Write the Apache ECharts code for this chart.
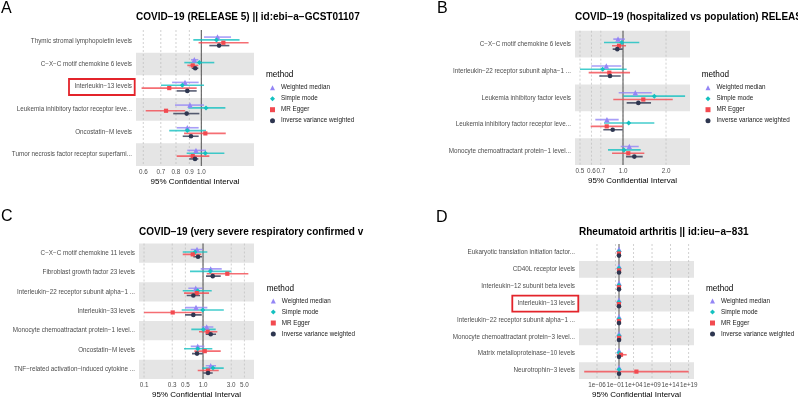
<!DOCTYPE html>
<html><head><meta charset="utf-8">
<script src="https://cdn.jsdelivr.net/npm/echarts@6/dist/echarts.min.js"></script>
<style>html,body{margin:0;padding:0;background:#fff}#c{width:798px;height:400px}</style>
</head><body><div id="c"></div><script>
const FONT = 'Liberation Sans, Arial, Helvetica, sans-serif';
const methods = ['Weighted median', 'Simple mode', 'MR Egger', 'Inverse variance weighted'];
const methodColors = ['#9486F5', '#14C1C0', '#F24A50', '#2E3650'];
const methodSymbols = ['triangle', 'diamond', 'rect', 'circle'];
const methodSizes = [5.5, 5, 4.2, 4.6];
const dodge = [-0.1875, -0.0625, 0.0625, 0.1875];

// ---------- Panel A ----------
const titleA = 'COVID−19 (RELEASE 5) || id:ebi−a−GCST01107';
const labelsA = ['Thymic stromal lymphopoietin levels', 'C−X−C motif chemokine 6 levels', 'Interleukin−13 levels',
  'Leukemia inhibitory factor receptor leve...', 'Oncostatin−M levels', 'Tumor necrosis factor receptor superfami...'];
const wmEstA = [1.153, 0.940, 0.866, 0.905, 0.884, 0.954];
const wmLoA  = [1.024, 0.913, 0.773, 0.793, 0.805, 0.884];
const wmHiA  = [1.299, 0.974, 0.977, 1.024, 0.977, 1.042];
const smEstA = [1.143, 0.983, 0.846, 1.042, 0.884, 1.036];
const smLoA  = [0.932, 0.861, 0.701, 0.892, 0.754, 0.879];
const smHiA  = [1.400, 1.121, 1.024, 1.236, 1.042, 1.225];
const egEstA = [1.214, 0.927, 0.754, 0.733, 1.036, 0.927];
const egLoA  = [0.976, 0.884, 0.591, 0.613, 0.859, 0.805];
const egHiA  = [1.516, 0.974, 0.960, 0.868, 1.240, 1.073];
const ivEstA = [1.169, 0.948, 0.884, 0.879, 0.913, 0.946];
const ivLoA  = [1.073, 0.919, 0.805, 0.781, 0.849, 0.900];
const ivHiA  = [1.280, 0.974, 0.960, 0.983, 0.977, 0.974];
const ticksA = [0.6, 0.7, 0.8, 0.9, 1.0];
const tickLabelsA = ['0.6', '0.7', '0.8', '0.9', '1.0'];
const rangeA = [0.5627, 1.590];

// ---------- Panel B ----------
const titleB = 'COVID−19 (hospitalized vs population) RELEAS';
const labelsB = ['C−X−C motif chemokine 6 levels', 'Interleukin−22 receptor subunit alpha−1 ...', 'Leukemia inhibitory factor levels',
  'Leukemia inhibitory factor receptor leve...', 'Monocyte chemoattractant protein−1 level...'];
const wmEstB = [0.923, 0.764, 1.219, 0.772, 1.107];
const wmLoB  = [0.855, 0.600, 0.933, 0.640, 0.964];
const wmHiB  = [1.030, 0.973, 1.589, 0.933, 1.288];
const smEstB = [0.979, 0.721, 1.657, 1.096, 1.016];
const smLoB  = [0.736, 0.500, 1.005, 0.736, 0.785];
const smHiB  = [1.300, 1.061, 2.720, 1.657, 1.330];
const egEstB = [0.938, 0.802, 1.387, 0.769, 1.089];
const egLoB  = [0.838, 0.575, 0.855, 0.594, 0.838];
const egHiB  = [1.050, 1.120, 2.229, 0.995, 1.410];
const ivEstB = [0.912, 0.811, 1.280, 0.847, 1.200];
const ivLoB  = [0.847, 0.682, 1.061, 0.728, 1.050];
const ivHiB  = [0.995, 0.964, 1.571, 0.995, 1.374];
const ticksB = [0.5, 0.6, 0.7, 1.0, 2.0];
const tickLabelsB = ['0.5', '0.6', '0.7', '1.0', '2.0'];
const rangeB = [0.4613, 2.944];

// ---------- Panel C ----------
const titleC = 'COVID−19 (very severe respiratory confirmed v';
const labelsC = ['C−X−C motif chemokine 11 levels', 'Fibroblast growth factor 23 levels', 'Interleukin−22 receptor subunit alpha−1 ...',
  'Interleukin−33 levels', 'Monocyte chemoattractant protein−1 level...', 'Oncostatin−M levels', 'TNF−related activation−induced cytokine ...'];
const wmEstC = [0.791, 1.350, 0.752, 0.761, 1.155, 0.813, 1.350];
const wmLoC  = [0.619, 0.914, 0.564, 0.495, 0.951, 0.619, 1.111];
const wmHiC  = [0.988, 2.075, 0.973, 1.183, 1.495, 1.052, 1.660];
const smEstC = [0.732, 1.330, 0.813, 0.988, 1.012, 0.813, 1.477];
const smLoC  = [0.453, 0.602, 0.453, 0.435, 0.633, 0.476, 0.973];
const smHiC  = [1.183, 3.020, 1.404, 2.250, 1.640, 1.437, 2.243];
const egEstC = [0.669, 2.580, 0.782, 0.306, 1.200, 1.069, 1.215];
const egLoC  = [0.453, 1.155, 0.476, 0.100, 0.855, 0.712, 0.813];
const egHiC  = [0.936, 5.860, 1.264, 0.951, 1.747, 1.996, 1.846];
const ivEstC = [0.823, 1.460, 0.685, 0.685, 1.350, 0.791, 1.215];
const ivLoC  = [0.685, 1.124, 0.529, 0.495, 1.111, 0.651, 1.012];
const ivHiC  = [0.962, 1.996, 0.890, 0.951, 1.660, 0.988, 1.460];
const ticksC = [0.1, 0.3, 0.5, 1.0, 3.0, 5.0];
const tickLabelsC = ['0.1', '0.3', '0.5', '1.0', '3.0', '5.0'];
const rangeC = [0.0822, 7.31];

// ---------- Panel D ----------
const titleD = 'Rheumatoid arthritis || id:ieu−a−831';
const labelsD = ['Eukaryotic translation initiation factor...', 'CD40L receptor levels', 'Interleukin−12 subunit beta levels',
  'Interleukin−13 levels', 'Interleukin−22 receptor subunit alpha−1 ...', 'Monocyte chemoattractant protein−3 level...',
  'Matrix metalloproteinase−10 levels', 'Neurotrophin−3 levels'];
const wmEstD = [0.98, 1.01, 0.99, 0.97, 1.00, 1.02, 0.99, 1.03];
const wmLoD  = [0.93, 0.96, 0.94, 0.92, 0.95, 0.96, 0.90, 0.92];
const wmHiD  = [1.03, 1.06, 1.04, 1.02, 1.05, 1.08, 1.09, 1.15];
const smEstD = [0.97, 1.02, 0.98, 0.96, 1.01, 1.03, 1.05, 1.04];
const smLoD  = [0.88, 0.93, 0.90, 0.88, 0.92, 0.93, 0.85, 0.80];
const smHiD  = [1.07, 1.12, 1.07, 1.05, 1.11, 1.14, 1.30, 1.35];
const egEstD = [0.95, 1.04, 0.97, 0.93, 0.99, 1.05, 3.5, 5.5e4];
const egLoD  = [0.80, 0.90, 0.85, 0.80, 0.85, 0.88, 0.23, 3.3e-10];
const egHiD  = [1.13, 1.20, 1.11, 1.08, 1.15, 1.25, 126, 1.0e19];
const ivEstD = [0.99, 1.01, 0.99, 0.98, 1.00, 1.01, 1.00, 1.02];
const ivLoD  = [0.96, 0.98, 0.96, 0.95, 0.97, 0.98, 0.95, 0.94];
const ivHiD  = [1.02, 1.04, 1.02, 1.01, 1.03, 1.04, 1.05, 1.10];
const ticksD = [1e-6, 1e-1, 1e4, 1e9, 1e14, 1e19];
const tickLabelsD = ['1e−06', '1e−01', '1e+04', '1e+09', '1e+14', '1e+19'];
const rangeD = [1.26e-11, 2.75e20];

const panels = [
  {title: titleA, labels: labelsA, est: [wmEstA, smEstA, egEstA, ivEstA], lo: [wmLoA, smLoA, egLoA, ivLoA], hi: [wmHiA, smHiA, egHiA, ivHiA], ticks: ticksA, tickLabels: tickLabelsA, range: rangeA},
  {title: titleB, labels: labelsB, est: [wmEstB, smEstB, egEstB, ivEstB], lo: [wmLoB, smLoB, egLoB, ivLoB], hi: [wmHiB, smHiB, egHiB, ivHiB], ticks: ticksB, tickLabels: tickLabelsB, range: rangeB},
  {title: titleC, labels: labelsC, est: [wmEstC, smEstC, egEstC, ivEstC], lo: [wmLoC, smLoC, egLoC, ivLoC], hi: [wmHiC, smHiC, egHiC, ivHiC], ticks: ticksC, tickLabels: tickLabelsC, range: rangeC},
  {title: titleD, labels: labelsD, est: [wmEstD, smEstD, egEstD, ivEstD], lo: [wmLoD, smLoD, egLoD, ivLoD], hi: [wmHiD, smHiD, egHiD, ivHiD], ticks: ticksD, tickLabels: tickLabelsD, range: rangeD}
];
const panelLetters = ['A', 'B', 'C', 'D'];

// layout (pixels)
const layouts = [
  {left: 136, top: 30, width: 118, height: 136, letter: [1, 9], title: [136, 17.5], legend: [270, 82.2], method: [266, 75]},
  {left: 575, top: 30.7, width: 115, height: 134.3, letter: [437, 9], title: [575, 17.5], legend: [705.5, 82.2], method: [701.7, 74.5]},
  {left: 139, top: 243.5, width: 115, height: 136.5, letter: [1, 217], title: [139, 232], legend: [270.8, 295.5], method: [266.7, 288.3]},
  {left: 579, top: 244, width: 115, height: 137, letter: [436, 218], title: [579, 232], legend: [710, 295.5], method: [706, 288.3]}
];
const highlightBoxes = [
  {x: 69, y: 79, w: 65.7, h: 16},
  {x: 512.3, y: 295.7, w: 66, h: 16}
];

const option = {
  animation: false,
  textStyle: {fontFamily: FONT},
  grid: [], xAxis: [], yAxis: [], series: [], legend: [], graphic: []
};

panels.forEach((p, k) => {
  const L = layouts[k];
  const n = p.labels.length;
  const yVal = 2 * k + 1;
  option.grid.push({left: L.left, top: L.top, width: L.width, height: L.height, containLabel: false});
  const tickLogs = p.ticks.map(Math.log10);
  option.xAxis.push({
    type: 'value', gridIndex: k,
    min: Math.log10(p.range[0]), max: Math.log10(p.range[1]),
    axisLine: {show: false}, axisTick: {show: false}, splitLine: {show: false},
    axisLabel: {
      customValues: tickLogs,
      formatter: v => { const i = tickLogs.findIndex(t => Math.abs(t - v) < 1e-6); return i >= 0 ? p.tickLabels[i] : ''; },
      fontSize: 6.3, color: '#4D4D4D', margin: 3, fontFamily: FONT, hideOverlap: false
    },
    name: '95% Confidential Interval', nameLocation: 'middle', nameGap: 12,
    nameTextStyle: {fontSize: 8, color: '#000', fontFamily: FONT}
  });
  option.yAxis.push({
    type: 'category', gridIndex: k, data: p.labels, inverse: true,
    axisLine: {show: false}, axisTick: {show: false}, splitLine: {show: false},
    axisLabel: {interval: 0, fontSize: 6.3, color: '#4D4D4D', margin: 4, fontFamily: FONT}
  });
  option.yAxis.push({type: 'value', gridIndex: k, min: 0, max: n, inverse: true, show: false});

  // alternating bands (bottom row shaded)
  const bandData = [];
  for (let i = 0; i < n; i++) if ((n - 1 - i) % 2 === 0) bandData.push([0, i, i + 1]);
  option.series.push({
    type: 'custom', name: 'band' + k, xAxisIndex: k, yAxisIndex: yVal, z: 1, silent: true,
    encode: {x: 0, y: [1, 2]}, data: bandData,
    renderItem: (params, api) => {
      const cs = params.coordSys;
      const y0 = api.coord([0, api.value(1)])[1];
      const y1 = api.coord([0, api.value(2)])[1];
      return {type: 'rect', shape: {x: cs.x, y: Math.min(y0, y1), width: cs.width, height: Math.abs(y1 - y0)}, style: {fill: '#E5E5E5'}};
    }
  });
  // dashed vertical grid lines at tick values
  option.series.push({
    type: 'custom', name: 'grid' + k, xAxisIndex: k, yAxisIndex: yVal, z: 2, silent: true,
    encode: {x: 0, y: 1}, data: tickLogs.map(t => [t, 0]),
    renderItem: (params, api) => {
      const cs = params.coordSys;
      const x = api.coord([api.value(0), 0])[0];
      return {type: 'line', shape: {x1: x, y1: cs.y, x2: x, y2: cs.y + cs.height}, style: {stroke: '#BDBDBD', lineWidth: 0.7, lineDash: [2, 2]}};
    }
  });
  // reference line at OR = 1
  option.series.push({
    type: 'custom', name: 'ref' + k, xAxisIndex: k, yAxisIndex: yVal, z: 3, silent: true,
    encode: {x: 0, y: 1}, data: [[Math.log10(1), 0]],
    renderItem: (params, api) => {
      const cs = params.coordSys;
      const x = api.coord([api.value(0), 0])[0];
      return {type: 'line', shape: {x1: x, y1: cs.y, x2: x, y2: cs.y + cs.height}, style: {stroke: '#5E5E5E', lineWidth: 1.1}};
    }
  });
  methods.forEach((m, j) => {
    const ciData = p.labels.map((_, i) => [Math.log10(p.lo[j][i]), Math.log10(p.hi[j][i]), i + 0.5 + dodge[j]]);
    option.series.push({
      type: 'custom', name: 'ci' + k + '_' + j, xAxisIndex: k, yAxisIndex: yVal, z: 4, silent: true,
      encode: {x: [0, 1], y: 2}, data: ciData, clip: true,
      renderItem: (params, api) => {
        const a = api.coord([api.value(0), api.value(2)]);
        const b = api.coord([api.value(1), api.value(2)]);
        return {type: 'line', shape: {x1: a[0], y1: a[1], x2: b[0], y2: b[1]}, style: {stroke: methodColors[j], lineWidth: 1.6, opacity: 0.8}};
      }
    });
  });
  methods.forEach((m, j) => {
    const ptData = p.labels.map((_, i) => [Math.log10(p.est[j][i]), i + 0.5 + dodge[j]]);
    option.series.push({
      type: 'scatter', name: m, xAxisIndex: k, yAxisIndex: yVal, z: 5,
      symbol: methodSymbols[j], symbolSize: methodSizes[j],
      itemStyle: {color: methodColors[j], opacity: 1},
      data: ptData
    });
  });
  option.legend.push({
    data: methods.slice(), orient: 'vertical', left: L.legend[0], top: L.legend[1],
    itemWidth: 5, itemHeight: 5, itemGap: 0, selectedMode: false, padding: 0,
    textStyle: {fontSize: 6.3, color: '#1A1A1A', lineHeight: 11, fontFamily: FONT, padding: [0, 0, 0, 1]}
  });
  option.graphic.push(
    {type: 'text', x: L.letter[0], y: L.letter[1], style: {text: panelLetters[k], font: '16px ' + FONT, fill: '#000', verticalAlign: 'middle', align: 'left'}},
    {type: 'text', x: L.title[0], y: L.title[1], style: {text: p.title, font: 'bold 10px ' + FONT, fill: '#000', verticalAlign: 'middle', align: 'left'}},
    {type: 'text', x: L.method[0], y: L.method[1], style: {text: 'method', font: '8.2px ' + FONT, fill: '#000', verticalAlign: 'middle', align: 'left'}}
  );
});
highlightBoxes.forEach(b => {
  option.graphic.push({type: 'rect', shape: {x: b.x, y: b.y, width: b.w, height: b.h}, style: {fill: 'none', stroke: '#E3242B', lineWidth: 1.8}, z: 100});
});

const chart = echarts.init(document.getElementById('c'), null, {renderer: 'canvas'});
chart.setOption(option);
</script></body></html>
